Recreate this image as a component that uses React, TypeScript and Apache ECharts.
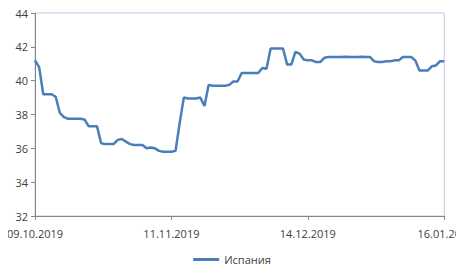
import React, { useEffect, useRef } from "react";
import * as echarts from "echarts";

const startDate = "2019-10-09";
const dayCount = 100;

const spainValues: number[] = [
  41.2, 40.8, 39.2, 39.2, 39.2, 39.05, 38.1, 37.85, 37.75, 37.75,
  37.75, 37.75, 37.7, 37.3, 37.3, 37.3, 36.3, 36.25, 36.25, 36.25,
  36.5, 36.55, 36.4, 36.25, 36.2, 36.2, 36.2, 36.0, 36.05, 36.0,
  35.85, 35.8, 35.8, 35.8, 35.85, 37.5, 39.0, 38.95, 38.95, 38.95,
  39.0, 38.5, 39.75, 39.7, 39.7, 39.7, 39.7, 39.75, 39.95, 39.95,
  40.45, 40.45, 40.45, 40.45, 40.45, 40.75, 40.7, 41.9, 41.9, 41.9,
  41.9, 40.95, 40.95, 41.7, 41.6, 41.25, 41.2, 41.2, 41.1, 41.1,
  41.35, 41.4, 41.4, 41.4, 41.4, 41.42, 41.4, 41.4, 41.4, 41.42,
  41.4, 41.4, 41.15, 41.1, 41.1, 41.15, 41.15, 41.2, 41.2, 41.4,
  41.4, 41.4, 41.2, 40.6, 40.6, 40.6, 40.85, 40.9, 41.15, 41.15,
];

const seriesName = "Испания";
const yMin = 32;
const yMax = 44;
const yInterval = 2;

function buildDates(): string[] {
  const out: string[] = [];
  const base = new Date(startDate + "T00:00:00Z");
  for (let i = 0; i < dayCount; i++) {
    const d = new Date(base.getTime() + i * 86400000);
    const dd = String(d.getUTCDate()).padStart(2, "0");
    const mm = String(d.getUTCMonth() + 1).padStart(2, "0");
    out.push(`${dd}.${mm}.${d.getUTCFullYear()}`);
  }
  return out;
}

const categories = buildDates();

export default function App() {
  const ref = useRef<HTMLDivElement>(null);
  useEffect(() => {
    if (!ref.current) return;
    const chart = echarts.init(ref.current, undefined, { renderer: "svg" });
    const font = "Open Sans, Liberation Sans, sans-serif";
    chart.setOption({
      animation: false,
      backgroundColor: "#ffffff",
      grid: {
        left: 35,
        right: 16,
        top: 13,
        bottom: 56,
        show: true,
        borderColor: "#b9cde5",
        borderWidth: 1,
      },
      legend: {
        bottom: 2,
        left: "center",
        itemWidth: 26,
        itemHeight: 3,
        icon: "rect",
        itemGap: 4,
        data: [seriesName],
        textStyle: { color: "#404040", fontSize: 11, fontFamily: font },
      },
      xAxis: {
        type: "category",
        data: categories,
        boundaryGap: false,
        axisLine: { lineStyle: { color: "#868686", width: 1 } },
        axisTick: { show: true, interval: 32, length: 4, lineStyle: { color: "#868686" } },
        axisLabel: {
          interval: 32,
          color: "#404040",
          fontSize: 11,
          fontFamily: font,
          margin: 12,
          formatter: (v: string, idx: number) =>
            idx === dayCount - 1 ? `{last|${v.slice(0, 8)}}` : v,
          rich: {
            last: {
              color: "#404040",
              fontSize: 11,
              fontFamily: font,
              padding: [0, 10, 0, 0],
            },
          },
        },
        splitLine: { show: false },
      },
      yAxis: {
        type: "value",
        min: yMin,
        max: yMax,
        interval: yInterval,
        axisLine: { show: true, lineStyle: { color: "#868686", width: 1 } },
        axisTick: { show: true, length: 4, lineStyle: { color: "#868686" } },
        axisLabel: { color: "#404040", fontSize: 11, fontFamily: font, margin: 7 },
        splitLine: { show: false },
      },
      series: [
        {
          name: seriesName,
          type: "line",
          data: spainValues,
          showSymbol: false,
          symbol: "none",
          lineStyle: { color: "#4a7ebb", width: 2.5 },
          itemStyle: { color: "#4a7ebb" },
        },
      ],
    });
    return () => chart.dispose();
  }, []);
  return <div ref={ref} style={{ width: 464, height: 272, margin: -8 }} />;
}
